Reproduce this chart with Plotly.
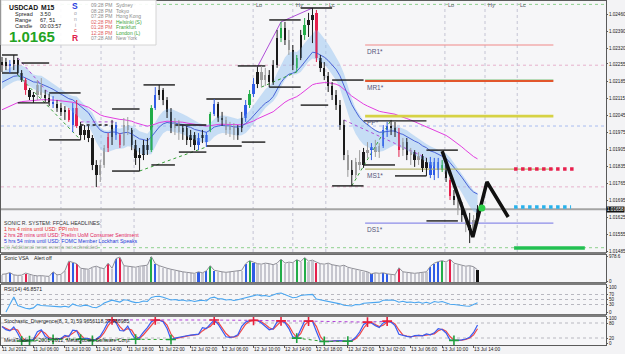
import plotly.graph_objects as go

# ---------------- DATA ----------------
opens = [1.02251,1.02263,1.02247,1.02255,1.02271,1.02218,1.02189,1.02148,1.02119,1.02128,
         1.02169,1.02128,1.02115,1.02099,1.02091,1.02074,1.02058,1.02066,1.02004,1.02074,
         1.02000,1.01963,1.01984,1.01951,1.01840,1.01799,1.01840,1.01910,1.01955,1.02004,
         1.01963,1.01922,1.02004,1.01984,1.01922,1.01869,1.01881,1.01922,1.01901,1.02074,
         1.02128,1.02148,1.02107,1.02058,1.01992,1.02017,1.01975,1.01992,1.01943,1.01963,
         1.01922,1.01951,1.01963,1.01984,1.02049,1.02091,1.02033,1.02025,1.01984,1.02000,
         1.01963,1.01992,1.02033,1.02086,1.02132,1.02173,1.02222,1.02189,1.02210,1.02181,
         1.02251,1.02362,1.02403,1.02354,1.02312,1.02239,1.02280,1.02374,1.02415,1.02436,
         1.02465,1.02280,1.02239,1.02206,1.02165,1.02128,1.02086,1.02004,1.01881,1.01819,
         1.01799,1.01852,1.01840,1.01893,1.01901,1.01914,1.01893,1.01918,1.01984,1.02000,
         1.01992,1.01975,1.01901,1.01934,1.01881,1.01893,1.01860,1.01877,1.01828,1.01852,
         1.01799,1.01852,1.01819,1.01840,1.01778,1.01712,1.01696,1.01655,1.01634,1.01593,
         1.01573,1.01614]
highs = [1.02284,1.02280,1.02271,1.02292,1.02280,1.02230,1.02197,1.02156,1.02140,1.02189,
         1.02197,1.02148,1.02132,1.02123,1.02107,1.02095,1.02082,1.02074,1.02095,1.02107,
         1.02017,1.02004,1.02000,1.01963,1.01860,1.01860,1.01922,1.01971,1.02025,1.02017,
         1.01971,1.02033,1.02037,1.01992,1.01943,1.01910,1.01943,1.01951,1.02086,1.02160,
         1.02169,1.02156,1.02119,1.02074,1.02033,1.02025,1.02004,1.02000,1.01984,1.01975,
         1.01971,1.01984,1.01975,1.02058,1.02111,1.02099,1.02058,1.02037,1.02017,1.02012,
         1.02004,1.02058,1.02107,1.02148,1.02197,1.02243,1.02247,1.02239,1.02230,1.02271,
         1.02395,1.02428,1.02428,1.02395,1.02333,1.02292,1.02395,1.02444,1.02465,1.02485,
         1.02477,1.02292,1.02263,1.02222,1.02181,1.02148,1.02107,1.02025,1.01901,1.01860,
         1.01869,1.01901,1.01910,1.01934,1.01930,1.01943,1.01930,1.02004,1.02017,1.02025,
         1.02017,1.01992,1.01951,1.01951,1.01910,1.01901,1.01893,1.01885,1.01869,1.01873,
         1.01869,1.01869,1.01860,1.01848,1.01786,1.01737,1.01704,1.01688,1.01655,1.01643,
         1.01634,1.01675]
lows = [1.02222,1.02230,1.02218,1.02230,1.02210,1.02181,1.02128,1.02107,1.02095,1.02107,
        1.02115,1.02099,1.02082,1.02074,1.02058,1.02041,1.02025,1.02017,1.01975,1.01992,
        1.01943,1.01943,1.01934,1.01819,1.01749,1.01770,1.01828,1.01893,1.01922,1.01943,
        1.01910,1.01918,1.01963,1.01901,1.01840,1.01815,1.01860,1.01881,1.01893,1.02066,
        1.02107,1.02086,1.02033,1.01971,1.01963,1.01943,1.01943,1.01922,1.01914,1.01901,
        1.01901,1.01930,1.01914,1.01975,1.02041,1.02017,1.02000,1.01963,1.01955,1.01943,
        1.01943,1.01975,1.02017,1.02074,1.02119,1.02156,1.02160,1.02165,1.02160,1.02169,
        1.02239,1.02345,1.02333,1.02292,1.02230,1.02222,1.02271,1.02354,1.02366,1.02341,
        1.02263,1.02222,1.02189,1.02140,1.02107,1.02066,1.01984,1.01860,1.01791,1.01754,
        1.01786,1.01819,1.01828,1.01869,1.01860,1.01873,1.01869,1.01910,1.01955,1.01963,
        1.01955,1.01873,1.01877,1.01860,1.01840,1.01832,1.01840,1.01811,1.01795,1.01786,
        1.01778,1.01786,1.01811,1.01770,1.01696,1.01675,1.01634,1.01606,1.01564,1.01519,
        1.01548,1.01606]
closes = [1.02263,1.02247,1.02255,1.02271,1.02218,1.02189,1.02148,1.02119,1.02128,1.02169,
          1.02128,1.02115,1.02099,1.02091,1.02074,1.02058,1.02066,1.02025,1.02074,1.02000,
          1.01963,1.01984,1.01951,1.01840,1.01799,1.01840,1.01910,1.01955,1.02004,1.01963,
          1.01922,1.02004,1.01984,1.01922,1.01869,1.01881,1.01922,1.01901,1.02074,1.02128,
          1.02148,1.02107,1.02058,1.01992,1.02017,1.01975,1.01992,1.01943,1.01963,1.01922,
          1.01951,1.01963,1.01934,1.02049,1.02091,1.02033,1.02025,1.01984,1.02000,1.01963,
          1.01992,1.02033,1.02086,1.02132,1.02173,1.02222,1.02189,1.02210,1.02181,1.02251,
          1.02362,1.02403,1.02354,1.02312,1.02251,1.02280,1.02374,1.02415,1.02436,1.02456,
          1.02280,1.02239,1.02206,1.02165,1.02128,1.02086,1.02004,1.01881,1.01819,1.01799,
          1.01852,1.01840,1.01893,1.01901,1.01914,1.01893,1.01918,1.01984,1.02000,1.01992,
          1.01975,1.01901,1.01934,1.01881,1.01893,1.01860,1.01877,1.01828,1.01852,1.01799,
          1.01852,1.01819,1.01840,1.01786,1.01712,1.01696,1.01655,1.01634,1.01593,1.01573,
          1.01614,1.01658]
volumes = [280,300,350,260,240,250,330,280,240,220,
           230,210,200,380,260,280,420,800,760,700,
           520,500,480,560,600,540,500,720,520,900,
           960,620,600,580,560,600,620,640,978,700,
           620,560,520,480,440,420,380,360,340,320,
           380,340,420,620,440,400,380,360,380,400,
           420,440,700,820,760,700,680,720,700,660,
           720,880,720,760,740,860,780,940,800,840,
           760,700,680,720,660,620,600,640,560,520,
           480,440,400,380,300,340,320,340,300,280,
           260,540,380,360,340,320,340,360,380,600,
           720,780,820,760,880,720,680,640,600,620,
           580,460]
# VSA bar class: k normal, g low-activity, B blue, R red, G green
vsa_class = list("kkBkkkRkkg" "gkkBkkkRBR" "kkkkkggRkB" "RggkkkkkGB" "kkkkggkkkk"
                 "BkBGBkkggg" "kkBGBkggkk" "kGkgkGkGkk" "Rkkkkkkkgk" "ggkgBggBBk"
                 "kRgkgkgkkB" "BBGkRkgkgk" "gk")

bid = 1.01658
price_ticks = [1.02460,1.02390,1.02320,1.02255,1.02185,1.02115,1.02045,1.01975,
               1.01905,1.01835,1.01765,1.01695,1.01625,1.01555,1.01485]
time_labels = ["11 Jul 2012","11 Jul 06:00","11 Jul 10:00","11 Jul 14:00","11 Jul 18:00",
               "11 Jul 22:00","12 Jul 02:00","12 Jul 06:00","12 Jul 10:00","12 Jul 14:00",
               "12 Jul 18:00","12 Jul 22:00","13 Jul 02:00","13 Jul 06:00","13 Jul 10:00",
               "13 Jul 14:00"]
time_label_bars = [0,8,16,24,32,40,48,56,64,72,80,88,96,104,112,120]

# session markers (bar position, label)
session_bars = [15.0, 25.2, 33.6, 63.9, 74.0, 82.4, 112.7, 122.9, 131.1]
session_names = ["Lo","Hy","Lc","Lo","Hy","Lc","Lo","Hy","Lc"]

# quarter levels
quarter_levels = [1.02500, 1.02250, 1.02000, 1.01750, 1.01500]

# swing high/low lines
swing_price = [1.02292,1.02218,1.02259,1.02095,1.02136,1.01943,1.02004,1.02070,1.01815,1.02169,
               1.01840,1.02004,1.01893,1.02111,1.01918,1.02247,1.01934,1.02436,1.02160,1.02485,
               1.02086,1.02189,1.01754,1.02021,1.01840,1.01795,1.01901,1.01610]
swing_from = [0,0,5,4,12,12,20,28,28,36,38,44,45,52,52,60,61,68,68,76,76,84,84,92,92,100,108,108]
swing_to = [4,4,12,12,20,20,27,35,35,44,44,52,52,61,61,67,67,76,76,84,83,92,92,108,100,108,116,116]

# pivot levels
pivot_names = ["DR1*", "MR1*", "PP*", "MS1*", "DS1*"]
pivot_prices = [1.02333, 1.02185, 1.02041, 1.01823, 1.01601]
pivot_start, pivot_end = 92.4, 140.3
wr_level = 1.02190

# right-side target levels
target_prices = [1.01823, 1.01667, 1.01499]
target_start = 130.3
target_end = [146.3, 144.8, 148.3]

# projection zigzag
proj_bars = [112.0, 119.8, 123.4, 128.8]
proj_prices = [1.01897, 1.01544, 1.01770, 1.01626]
signal_bar, signal_price = 122.1, 1.01663

# fractal links (bar, H/L) -> (bar, H/L), colour name
fractal_links = [(4,'H',12,'H','p'), (4,'L',20,'L','g'), (20,'H',29,'H','p'),
                 (35,'L',52,'L','g'), (66,'L',75,'L','g'), (87,'H',108,'H','p'),
                 (89,'L',99,'H','g')]
fractal_path = [65, 71, 79]

# indicator seeds (values at left edge)
band_hi_seed, band_lo_seed, fast_seed, slow_seed = 1.02210, 1.02136, 1.02169, 1.02058

# ---------------- STYLE / LAYOUT ----------------
W, H = 625, 354
ML, MR, MT, MB = 1, 19, 1, 9
PW, PH = W - ML - MR, H - MT - MB
BAR_PX = 3.93
X0 = -1.0 / BAR_PX
X1 = X0 + PW / BAR_PX
FONT = "Liberation Sans"

def px(X):
    return (X - ML) / PW

def py(Y):
    return (H - MB - Y) / PH

candle_col = {'k': '#1c1c1c', 'g': '#9c9c9c', 'B': '#2f5ce6', 'R': '#e6204c', 'G': '#22ad48'}
vol_col = {'k': '#c6c6ce', 'g': '#c6c6ce', 'B': '#2f5ce6', 'R': '#e6204c', 'G': '#22ad48'}

n = len(closes)
idx = list(range(n))

def ema(series, per, seed):
    a = 2.0 / (per + 1)
    out, e = [], seed
    for v in series:
        e += a * (v - e)
        out.append(e)
    return out

def rsi(c, per):
    out = [None]
    ag = al = 0.0
    for i in range(1, len(c)):
        ch = c[i] - c[i - 1]
        g, lo = max(ch, 0), max(-ch, 0)
        m = min(i, per)
        ag = (ag * (m - 1) + g) / m
        al = (al * (m - 1) + lo) / m
        out.append(100.0 if al == 0 else 100 - 100 / (1 + ag / al))
    return out

def stochastic(h, l, c, per, slow, dper):
    num, den = [], []
    for i in range(len(c)):
        a = max(0, i - per + 1)
        lo, hi = min(l[a:i + 1]), max(h[a:i + 1])
        num.append(c[i] - lo)
        den.append(hi - lo)
    k = []
    for i in range(len(c)):
        a = max(0, i - slow + 1)
        s = sum(den[a:i + 1])
        k.append(100 * sum(num[a:i + 1]) / s if s > 0 else 50)
    d = []
    for i in range(len(k)):
        a = max(0, i - dper + 1)
        d.append(sum(k[a:i + 1]) / (i + 1 - a))
    return k, d

band_hi = ema(highs, 11, band_hi_seed)
band_lo = ema(lows, 11, band_lo_seed)
fast_ma = ema(closes, 16, fast_seed)
slow_ma = ema(closes, 45, slow_seed)
rsi_v = rsi(closes, 12)
stk, std = stochastic(highs, lows, closes, 4, 2, 2)

fig = go.Figure()

# main panel --------------------------------------------------
fig.add_trace(go.Scatter(x=idx, y=band_lo, mode='lines', line=dict(width=0, color='rgba(0,0,0,0)'),
                         hoverinfo='skip', showlegend=False))
fig.add_trace(go.Scatter(x=idx, y=band_hi, mode='lines', line=dict(width=0, color='rgba(0,0,0,0)'),
                         fill='tonexty', fillcolor='rgba(150,196,242,0.50)', hoverinfo='skip', showlegend=False))
fig.add_trace(go.Scatter(x=idx, y=slow_ma, mode='lines', line=dict(width=1, color='#e23ee0'), showlegend=False))
fig.add_trace(go.Scatter(x=idx, y=fast_ma, mode='lines', line=dict(width=1, color='#4a64d8'), showlegend=False))

# fractal links
lcol = {'p': '#b050d8', 'g': '#38a038'}
for a, ka, b, kb, c in fractal_links:
    ya = highs[a] if ka == 'H' else lows[a]
    yb = highs[b] if kb == 'H' else lows[b]
    fig.add_trace(go.Scatter(x=[a, b], y=[ya, yb], mode='lines',
                             line=dict(width=1, color=lcol[c], dash='dot'), showlegend=False))
fig.add_trace(go.Scatter(x=fractal_path, y=[highs[i] for i in fractal_path], mode='lines',
                         line=dict(width=1, color='#b050d8'), showlegend=False))

# pivot lines
pcol = ['#f08888', '#e2562c', '#d6d244', '#b8b870', '#8c8ce8']
pw = [1.2, 2.2, 2.8, 1.2, 1.2]
fig.add_trace(go.Scatter(x=[pivot_start, pivot_end], y=[wr_level, wr_level], mode='lines',
                         line=dict(width=1, color='#9ccf9c'), showlegend=False))
for p, c, w in zip(pivot_prices, pcol, pw):
    fig.add_trace(go.Scatter(x=[pivot_start, pivot_end], y=[p, p], mode='lines',
                             line=dict(width=w, color=c), showlegend=False))

# targets
tcol = ['#e8204e', '#28b2ec', '#22c052']
tdash = ['dot', 'dot', 'solid']
for p, e, c, d in zip(target_prices, target_end, tcol, tdash):
    fig.add_trace(go.Scatter(x=[target_start, e], y=[p, p], mode='lines',
                             line=dict(width=3.5, color=c, dash=d), showlegend=False))

# swing lines
for i, (p, a, b) in enumerate(zip(swing_price, swing_from, swing_to)):
    fig.add_trace(go.Scatter(x=[a, b], y=[p, p], mode='lines',
                             line=dict(width=1.4, color='#1a1a1a', dash='dot' if i == 6 else 'solid'),
                             showlegend=False))

# candles: wicks per class, bodies as one bar trace
for cls, col in candle_col.items():
    xs, ys = [], []
    for i in idx:
        if vsa_class[i] == cls:
            xs += [i, i, None]
            ys += [lows[i], highs[i], None]
    if xs:
        fig.add_trace(go.Scatter(x=xs, y=ys, mode='lines', line=dict(width=1, color=col),
                                 hoverinfo='skip', showlegend=False))
fig.add_trace(go.Bar(x=idx, base=[min(o, c) for o, c in zip(opens, closes)],
                     y=[max(abs(c - o), 0.00003) for o, c in zip(opens, closes)],
                     width=0.6, marker=dict(color=[candle_col[k] for k in vsa_class], line=dict(width=0)),
                     showlegend=False, xaxis='x', yaxis='y'))

# projection
fig.add_trace(go.Scatter(x=proj_bars, y=proj_prices, mode='lines', line=dict(width=3.5, color='#111111'),
                         showlegend=False))
fig.add_trace(go.Scatter(x=[signal_bar], y=[signal_price], mode='markers',
                         marker=dict(size=7, color='#2ed04a'), showlegend=False))

# volume panel --------------------------------------------------
vcols = [vol_col[k] for k in vsa_class]
vcols[-1] = '#111111'
fig.add_trace(go.Bar(x=idx, y=volumes, width=0.55, marker=dict(color=vcols, line=dict(width=0)),
                     xaxis='x2', yaxis='y2', showlegend=False))
fig.add_trace(go.Scatter(x=idx, y=volumes, mode='lines', line=dict(width=1, color='#8e8e96'),
                         xaxis='x2', yaxis='y2', showlegend=False))

# RSI panel
fig.add_trace(go.Scatter(x=idx, y=rsi_v, mode='lines', line=dict(width=1.1, color='#4aa6f0'),
                         xaxis='x3', yaxis='y3', showlegend=False))

# Stochastic panel
fig.add_trace(go.Scatter(x=idx, y=std, mode='lines', line=dict(width=1.2, color='#f04848'),
                         xaxis='x4', yaxis='y4', showlegend=False))
fig.add_trace(go.Scatter(x=idx, y=stk, mode='lines', line=dict(width=1.2, color='#3a5cf0'),
                         xaxis='x4', yaxis='y4', showlegend=False))
peaks = [i for i in range(1, n - 1) if stk[i] >= stk[i - 1] and stk[i] > stk[i + 1] and stk[i] > 80]
troughs = [i for i in range(1, n - 1) if stk[i] <= stk[i - 1] and stk[i] < stk[i + 1] and stk[i] < 20]
for grp, col in ((peaks, '#b040d8'), (troughs, '#30a030')):
    for a, b in zip(grp[:-1], grp[1:]):
        if b - a < 22:
            fig.add_trace(go.Scatter(x=[a, b], y=[stk[a], stk[b]], mode='lines',
                                     line=dict(width=1, color=col, dash='dot'),
                                     xaxis='x4', yaxis='y4', showlegend=False))
fig.add_trace(go.Scatter(x=peaks, y=[stk[i] for i in peaks], mode='markers',
                         marker=dict(symbol='cross-thin', size=7, line=dict(width=1.6, color='#e8203c')),
                         xaxis='x4', yaxis='y4', showlegend=False))
fig.add_trace(go.Scatter(x=troughs, y=[stk[i] for i in troughs], mode='markers',
                         marker=dict(symbol='cross-thin', size=7, line=dict(width=1.6, color='#20a040')),
                         xaxis='x4', yaxis='y4', showlegend=False))

# ---------------- layout ----------------
tickfont = dict(family=FONT, size=4.6, color='#202020')
dom_main = [py(252), py(1)]
dom_vol = [py(282), py(254.5)]
dom_rsi = [py(314), py(285)]
dom_sto = [py(345), py(317)]

def xax(anchor, ticks=False):
    d = dict(range=[X0, X1], domain=[0, 1], anchor=anchor, showgrid=False, zeroline=False,
             showticklabels=False, showline=True, linecolor='#5a5a5a', linewidth=1, mirror=True,
             fixedrange=True)
    if ticks:
        d.update(ticks='outside', ticklen=2, tickcolor='#5a5a5a', tickvals=time_label_bars)
    else:
        d.update(ticks='')
    return d

def yax(anchor, dom, rng, tv, tt):
    return dict(domain=dom, range=rng, anchor=anchor, side='right', showgrid=False, zeroline=False,
                tickvals=tv, ticktext=tt, ticks='outside', ticklen=1, tickcolor='#5a5a5a',
                tickfont=tickfont, showline=True, linecolor='#5a5a5a', linewidth=1, mirror=True,
                automargin=False, fixedrange=True)

price_lo = 1.02518 - 0.0000411 * 252
price_hi = 1.02518 - 0.0000411 * 1

shapes = []
# quarter levels
qcol = ['#8fd08f', '#e6b2cc', '#a8bcf0', '#e6b2cc', '#8fd08f']
for q, c in zip(quarter_levels, qcol):
    shapes.append(dict(type='line', xref='paper', yref='y', x0=0, x1=1, y0=q, y1=q,
                       line=dict(color=c, width=1, dash='dot'), layer='below'))
# session verticals
for b in session_bars:
    shapes.append(dict(type='line', xref='x', yref='paper', x0=b, x1=b, y0=dom_main[0], y1=1,
                       line=dict(color='#c4c4d4', width=1, dash='dot'), layer='below'))
# subpanel level lines
for lv in (70, 50, 30):
    shapes.append(dict(type='line', xref='paper', yref='y3', x0=0, x1=1, y0=lv, y1=lv,
                       line=dict(color='#b8b8c0', width=1, dash='dot'), layer='below'))
for lv in (80, 20):
    shapes.append(dict(type='line', xref='paper', yref='y4', x0=0, x1=1, y0=lv, y1=lv,
                       line=dict(color='#b8b8c0', width=1, dash='dot'), layer='below'))
# bid line
shapes.append(dict(type='line', xref='paper', yref='y', x0=0, x1=1, y0=bid, y1=bid,
                   line=dict(color='#a4a4a4', width=2), layer='below'))
# panel separators
for Y in (253.2, 283.6, 315.6):
    shapes.append(dict(type='line', xref='paper', yref='paper', x0=0, x1=1, y0=py(Y), y1=py(Y),
                       line=dict(color='#7c7c7c', width=2.6)))
# info box
shapes.append(dict(type='rect', xref='paper', yref='paper', x0=px(1), x1=px(156), y0=py(45), y1=py(0),
                   fillcolor='rgba(255,255,255,0.92)', line=dict(color='#d4d4d4', width=1)))

ann = []

def txt(X, Y, s, size=5.5, color='#222222', bold=False, anchor='left'):
    ann.append(dict(x=px(X), y=py(Y), xref='paper', yref='paper', text=('<b>%s</b>' % s) if bold else s,
                    showarrow=False, xanchor=anchor, yanchor='middle', borderpad=0,
                    font=dict(family=FONT, size=size, color=color)))

# header box
txt(8, 7, 'USDCAD', 6.8, '#111111', True)
txt(40, 7, 'M15', 6.8, '#111111', True)
for Y, a, b in ((14, 'Spread', '3.50'), (20, 'Range', '67, 51'), (26, 'Candle', '00:03:57')):
    txt(14, Y, a, 5.5, '#222222')
    txt(39, Y, b, 5.5, '#222222')
txt(8, 37, '1.0165', 15, '#23a323', True)
for Y, s, c, sz, bd in ((6, 'S', '#2a3ee0', 8.5, True), (13.5, 'o', '#9a9aa8', 5, False),
                        (19, 'n', '#9a9aa8', 5, False), (24.5, 'i', '#9a9aa8', 5, False),
                        (30, 'c', '#e03a3a', 5.5, False), (38, 'R', '#e0204c', 8.5, True)):
    txt(75, Y, s, sz, c, bd, 'center')
times = [('09:28 PM', 'Sydney', '#8a8a8a', '#8a8a8a'), ('08:28 PM', 'Tokyo', '#8a8a8a', '#8a8a8a'),
         ('07:28 PM', 'Hong Kong', '#8a8a8a', '#8a8a8a'), ('02:28 PM', 'Helsinki (S)', '#e06060', '#3aa53a'),
         ('01:28 PM', 'Frankfurt', '#e06060', '#3aa53a'), ('12:28 PM', 'London (L)', '#e06060', '#3aa53a'),
         ('07:28 AM', 'New York', '#8a8a8a', '#8a8a8a')]
for k, (t, city, c1, c2) in enumerate(times):
    Y = 5.3 + 5.5 * k
    txt(90, Y, t, 5, c1)
    txt(115, Y, city, 5, c2)

# headlines
for Y, s, c in ((223, 'SONIC R. SYSTEM: FFCAL HEADLINES:', '#333333'),
                (229, '1 hrs 4 mins until USD: PPI m/m', '#e82a2a'),
                (235, '2 hrs 28 mins until USD: Prelim UoM Consumer Sentiment', '#e0205a'),
                (241, '5 hrs 54 mins until USD: FOMC Member Lockhart Speaks', '#2438d8'),
                (247, '(ii) Additional news events not scheduled', '#a8a8a8')):
    txt(3, Y, s, 5.2, c)

# session labels
for b, s in zip(session_bars, session_names):
    if b > 40:
        ann.append(dict(x=b, y=py(5), xref='x', yref='paper', text=s, showarrow=False, xanchor='left',
                        yanchor='middle', xshift=1, font=dict(family=FONT, size=5.5, color='#555566')))

# pivot labels
for nm, p in zip(pivot_names, pivot_prices):
    ann.append(dict(x=pivot_start, y=p, xref='x', yref='y', text=nm, showarrow=False, xanchor='left',
                    yanchor='top', xshift=0, yshift=-1, font=dict(family=FONT, size=6.5, color='#55557a')))

# bid label
ann.append(dict(x=1, y=bid, xref='paper', yref='y', text='%.5f' % bid, showarrow=False, xanchor='left',
                yanchor='middle', bgcolor='#111111', borderpad=0,
                font=dict(family=FONT, size=4.6, color='#ffffff')))

# panel titles
txt(3, 258, 'Sonic VSA    Alert off', 5.2, '#222222')
txt(3, 289, 'RSI(14) 46.8571', 5.2, '#222222')
txt(3, 320.5, 'Stochastic_Divergence(8, 3, 3) 59.9656118 37.986985', 5.2, '#222222')
txt(3, 340, 'MetaTrader, © 2001-2012, MetaQuotes Software Corp.', 5.2, '#222222')

# time labels
for b, s in zip(time_label_bars, time_labels):
    ann.append(dict(x=b, y=py(346), xref='x4', yref='paper', text=s, showarrow=False, xanchor='left',
                    yanchor='top', borderpad=0, xshift=-1, font=dict(family=FONT, size=4.8, color='#222222')))

fig.update_layout(
    width=W, height=H, margin=dict(l=ML, r=MR, t=MT, b=MB, autoexpand=False),
    paper_bgcolor='#f3f3f5', plot_bgcolor='#f6f6f8', showlegend=False, barmode='overlay',
    bargap=0,
    xaxis=xax('y'), xaxis2=dict(xax('y2'), matches='x'), xaxis3=dict(xax('y3'), matches='x'),
    xaxis4=dict(xax('y4', True), matches='x'),
    yaxis=yax('x', dom_main, [price_lo, price_hi], price_ticks, ['%.5f' % v for v in price_ticks]),
    yaxis2=yax('x2', dom_vol, [-20, 1060], [978.6, 0], ['978.6', '0']),
    yaxis3=yax('x3', dom_rsi, [-8, 108], [100, 70, 50, 30, 0], ['100', '70', '50', '30', '0']),
    yaxis4=yax('x4', dom_sto, [-8, 104], [100, 80, 20, 0], ['100', '80', '20', '0']),
    shapes=shapes, annotations=ann, hovermode=False,
)

fig.write_html("out.html")
